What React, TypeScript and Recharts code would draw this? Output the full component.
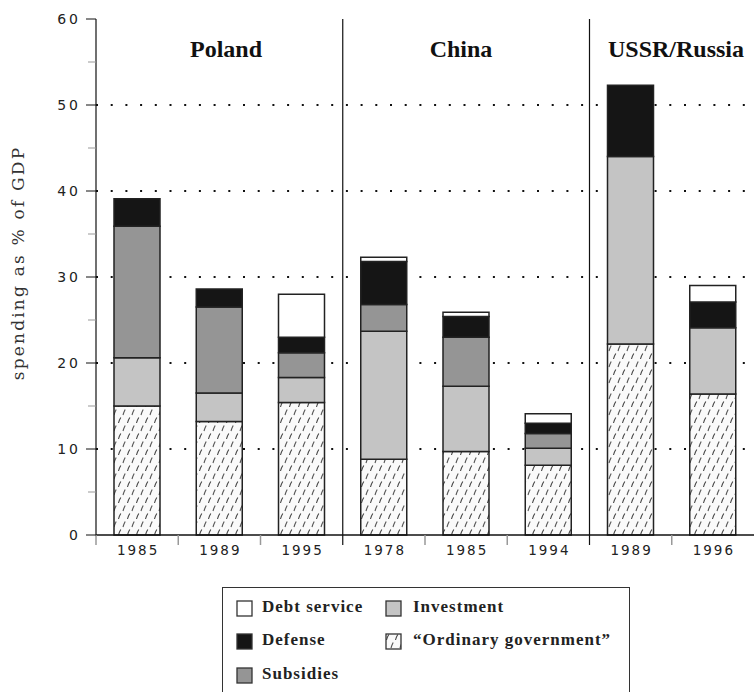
import { BarChart, Bar, XAxis, YAxis, CartesianGrid, ReferenceLine } from 'recharts';

const categories = ['P1985', 'P1989', 'P1995', 'C1978', 'C1985', 'C1994', 'R1989', 'R1996'];
const years = ['1985', '1989', '1995', '1978', '1985', '1994', '1989', '1996'];
const ordinary = [15.0, 13.2, 15.4, 8.8, 9.7, 8.1, 22.2, 16.4];
const investment = [5.6, 3.3, 2.9, 14.9, 7.6, 2.0, 21.8, 7.7];
const subsidies = [15.3, 10.0, 2.9, 3.1, 5.7, 1.7, 0, 0];
const defense = [3.2, 2.1, 1.8, 5.0, 2.4, 1.2, 8.3, 3.0];
const debt = [0, 0, 5.0, 0.5, 0.5, 1.1, 0, 1.9];
const yTicks = [0, 5, 10, 15, 20, 25, 30, 35, 40, 45, 50, 55, 60];
const gridValues = [10, 20, 30, 40, 50];
const dividers = ['C1978', 'R1989'];

const data = categories.map((c, i) => ({
	cat: c,
	year: years[i],
	ordinary: ordinary[i],
	investment: investment[i],
	subsidies: subsidies[i],
	defense: defense[i],
	debt: debt[i],
}));

const W = 754;
const PLOT_LEFT = 96;
const HALF_BAND = (W - PLOT_LEFT) / categories.length / 2;

// short slanted dashes, like the scanned hatch
const HatchDefs = ({ id }: { id: string }) => (
	<defs>
		<pattern id={id} patternUnits="userSpaceOnUse" width="9" height="16">
			<rect width="9" height="16" fill="#fafafa" />
			<path d="M1.5 7 Q2.2 4 3.8 1.5" fill="none" stroke="#444" strokeWidth="1.1" />
			<path d="M6 15 Q6.8 12 8.2 9.5" fill="none" stroke="#555" strokeWidth="1.1" />
		</pattern>
	</defs>
);

const YTick = (props: any) => {
	const { x, y, payload } = props;
	const major = payload.value % 10 === 0;
	return (
		<g>
			<line x1={major ? x - 10 : x - 8} y1={y} x2={x} y2={y} stroke={major ? '#111' : '#999'} strokeWidth={1} />
			{major && (
				<text x={x - 15} y={y + 5} textAnchor="end" fontFamily="DejaVu Sans" fontSize={14} letterSpacing={3} fill="#222">
					{payload.value}
				</text>
			)}
		</g>
	);
};

const XTick = (props: any) => {
	const { x, y, payload, index } = props;
	const left = x - HALF_BAND;
	const isDivider = dividers.includes(payload.value);
	return (
		<g>
			<line x1={left} y1={y} x2={left} y2={y + 10} stroke={isDivider ? '#111' : '#999'} strokeWidth={isDivider ? 1.2 : 1.5} />
			<text x={x + 1} y={y + 20} textAnchor="middle" fontFamily="DejaVu Sans" fontSize={13.5} letterSpacing={2} fill="#222">
				{years[index]}
			</text>
		</g>
	);
};

const titleStyle: React.CSSProperties = {
	position: 'absolute',
	top: 36,
	fontFamily: 'Liberation Serif',
	fontWeight: 'bold',
	fontSize: 24,
	transform: 'translateX(-50%)',
	whiteSpace: 'nowrap',
	color: '#111',
};

const legendText: React.CSSProperties = {
	position: 'absolute',
	fontFamily: 'Liberation Serif',
	fontWeight: 'bold',
	fontSize: 17,
	letterSpacing: 1,
	color: '#222',
	whiteSpace: 'nowrap',
};

const Swatch = ({ x, y, fill, hatch }: { x: number; y: number; fill: string; hatch?: boolean }) => (
	<svg style={{ position: 'absolute', left: x, top: y }} width={17} height={17}>
		{hatch && <HatchDefs id="legendHatch" />}
		<rect x={1} y={1} width={15} height={15} fill={hatch ? 'url(#legendHatch)' : fill} stroke="#333" strokeWidth={1.3} />
	</svg>
);

export default function App() {
	return (
		<div style={{ position: 'absolute', left: 0, top: 0, width: W, height: 692, background: '#fff', overflow: 'hidden' }}>
			<BarChart width={W} height={575} data={data} margin={{ top: 19, right: 0, left: 0, bottom: 0 }} barSize={46}>
				<HatchDefs id="ordHatch" />
				<CartesianGrid vertical={false} horizontalValues={gridValues} stroke="#111" strokeWidth={2} strokeDasharray="2 12.7" />
				<XAxis dataKey="cat" height={40} tickSize={0} tickMargin={0} tick={<XTick />} stroke="#111" axisLine={{ stroke: '#111', strokeWidth: 1.5 }} interval={0} />
				<YAxis width={96} domain={[0, 60]} ticks={yTicks} tickSize={0} tickMargin={0} tick={<YTick />} axisLine={{ stroke: '#111', strokeWidth: 1.2 }} interval={0} />
				{dividers.map((d) => (
					<ReferenceLine key={d} x={d} position="start" stroke="#111" strokeWidth={1.2} />
				))}
				<Bar dataKey="ordinary" stackId="a" fill="url(#ordHatch)" stroke="#222" strokeWidth={1.5} isAnimationActive={false} />
				<Bar dataKey="investment" stackId="a" fill="#c4c4c4" stroke="#222" strokeWidth={1.5} isAnimationActive={false} />
				<Bar dataKey="subsidies" stackId="a" fill="#959595" stroke="#222" strokeWidth={1.5} isAnimationActive={false} />
				<Bar dataKey="defense" stackId="a" fill="#151515" stroke="#222" strokeWidth={1.5} isAnimationActive={false} />
				<Bar dataKey="debt" stackId="a" fill="#ffffff" stroke="#222" strokeWidth={1.5} isAnimationActive={false} />
			</BarChart>

			<div style={{ ...titleStyle, left: 226 }}>Poland</div>
			<div style={{ ...titleStyle, left: 461 }}>China</div>
			<div style={{ ...titleStyle, left: 676 }}>USSR/Russia</div>

			<div
				style={{
					position: 'absolute',
					left: 18,
					top: 263,
					transform: 'translate(-50%, -50%) rotate(-90deg)',
					fontFamily: 'DejaVu Serif',
					fontSize: 17,
					letterSpacing: 2.2,
					color: '#333',
					whiteSpace: 'nowrap',
				}}
			>
				spending as % of GDP
			</div>

			<div style={{ position: 'absolute', left: 222, top: 587, width: 406, height: 120, border: '1.5px solid #333', background: '#fff' }} />
			<Swatch x={236} y={600} fill="#ffffff" />
			<div style={{ ...legendText, left: 262, top: 597 }}>Debt service</div>
			<Swatch x={236} y={633} fill="#151515" />
			<div style={{ ...legendText, left: 262, top: 630 }}>Defense</div>
			<Swatch x={236} y={667} fill="#959595" />
			<div style={{ ...legendText, left: 262, top: 664 }}>Subsidies</div>
			<Swatch x={385} y={600} fill="#c4c4c4" />
			<div style={{ ...legendText, left: 413, top: 597 }}>Investment</div>
			<Swatch x={385} y={633} fill="#fff" hatch />
			<div style={{ ...legendText, left: 413, top: 630 }}>“Ordinary government”</div>
		</div>
	);
}
